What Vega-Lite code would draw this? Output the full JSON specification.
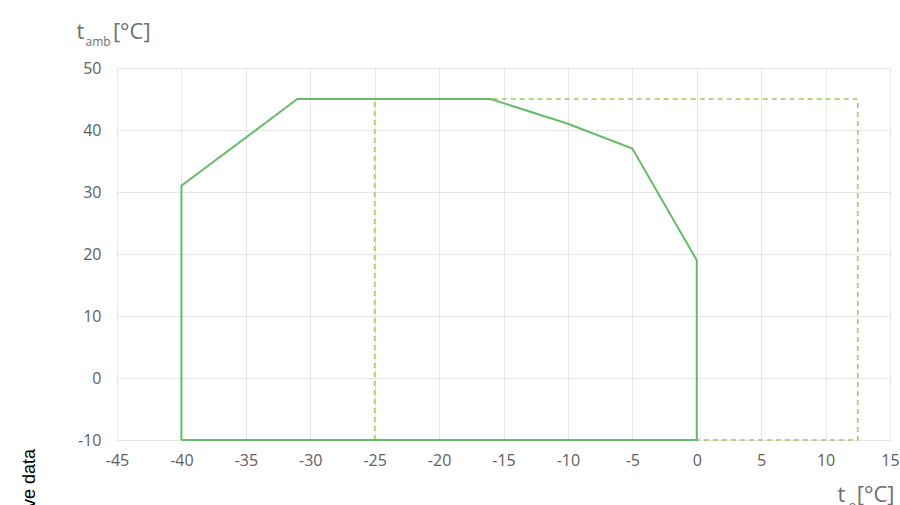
{
  "$schema": "https://vega.github.io/schema/vega-lite/v6.json",
  "width": 773,
  "height": 372,
  "autosize": {"type": "none"},
  "padding": {"left": 117, "top": 68, "right": 10, "bottom": 65},
  "background": "#ffffff",
  "title": {
    "text": "Curve data",
    "orient": "left",
    "anchor": "start",
    "frame": "group",
    "align": "right",
    "fontSize": 18,
    "fontWeight": "normal",
    "font": "Liberation Sans",
    "color": "#000000",
    "offset": 37,
    "dx": -9
  },
  "config": {
    "view": {"stroke": null},
    "axis": {
      "labelFont": "Open Sans",
      "titleFont": "Open Sans",
      "labelColor": "#606060",
      "titleColor": "#707070",
      "gridColor": "#e6e6e6",
      "ticks": false,
      "domain": false,
      "labelFlush": false
    }
  },
  "datasets": {
    "solid": [
      {"t_o": -40, "t_amb": -10, "order": 1},
      {"t_o": -40, "t_amb": 31, "order": 2},
      {"t_o": -31, "t_amb": 45, "order": 3},
      {"t_o": -16, "t_amb": 45, "order": 4},
      {"t_o": -10, "t_amb": 41, "order": 5},
      {"t_o": -5, "t_amb": 37, "order": 6},
      {"t_o": 0, "t_amb": 19, "order": 7},
      {"t_o": 0, "t_amb": -10, "order": 8},
      {"t_o": -40, "t_amb": -10, "order": 9}
    ],
    "dashed": [
      {"t_o": -25, "t_amb": -10, "order": 1},
      {"t_o": -25, "t_amb": 45, "order": 2},
      {"t_o": 12.5, "t_amb": 45, "order": 3},
      {"t_o": 12.5, "t_amb": -10, "order": 4},
      {"t_o": -25, "t_amb": -10, "order": 5}
    ]
  },
  "layer": [
    {
      "data": {"name": "dashed"},
      "mark": {"type": "line", "color": "#9ccc65", "strokeWidth": 1.6, "strokeDash": [5, 4]},
      "encoding": {
        "order": {"field": "order", "type": "quantitative"},
        "x": {
          "field": "t_o", "type": "quantitative",
          "scale": {"domain": [-45, 15], "nice": false, "zero": false},
          "axis": {
            "orient": "top", "labels": false, "grid": false,
            "title": "o", "titleFontSize": 13, "titleFontWeight": "normal",
            "titleAngle": 0, "titleAlign": "left", "titleBaseline": "alphabetic",
            "titleX": 731, "titleY": 441
          }
        },
        "y": {
          "field": "t_amb", "type": "quantitative",
          "scale": {"domain": [-10, 50], "nice": false, "zero": false},
          "axis": {
            "orient": "right", "labels": false, "grid": false,
            "title": "amb", "titleFontSize": 12, "titleFontWeight": "normal",
            "titleAngle": 0, "titleAlign": "left", "titleBaseline": "alphabetic",
            "titleX": -805, "titleY": -23
          }
        }
      }
    },
    {
      "data": {"name": "solid"},
      "mark": {"type": "line", "color": "#66bb6a", "strokeWidth": 2},
      "encoding": {
        "order": {"field": "order", "type": "quantitative"},
        "x": {
          "field": "t_o", "type": "quantitative",
          "scale": {"domain": [-45, 15], "nice": false, "zero": false},
          "axis": {
            "orient": "bottom", "grid": true,
            "values": [-45, -40, -35, -30, -25, -20, -15, -10, -5, 0, 5, 10, 15],
            "labelExpr": "replace(datum.label, '\u2212', '-')",
            "labelFontSize": 16, "labelPadding": 12,
            "title": "t\u00a0\u00a0[°C]", "titleFontSize": 22, "titleFontWeight": "normal",
            "titleAngle": 0, "titleAlign": "left", "titleBaseline": "alphabetic",
            "titleX": 720, "titleY": 61
          }
        },
        "y": {
          "field": "t_amb", "type": "quantitative",
          "scale": {"domain": [-10, 50], "nice": false, "zero": false},
          "axis": {
            "orient": "left", "grid": true,
            "values": [-10, 0, 10, 20, 30, 40, 50],
            "labelExpr": "replace(datum.label, '\u2212', '-')",
            "labelFontSize": 16, "labelPadding": 16,
            "title": "t\u00a0\u00a0\u00a0\u00a0\u00a0[°C]", "titleFontSize": 22, "titleFontWeight": "normal",
            "titleAngle": 0, "titleAlign": "left", "titleBaseline": "alphabetic",
            "titleX": -41, "titleY": -30
          }
        }
      }
    }
  ],
  "resolve": {"scale": {"x": "independent", "y": "independent"}, "axis": {"x": "independent", "y": "independent"}}
}
